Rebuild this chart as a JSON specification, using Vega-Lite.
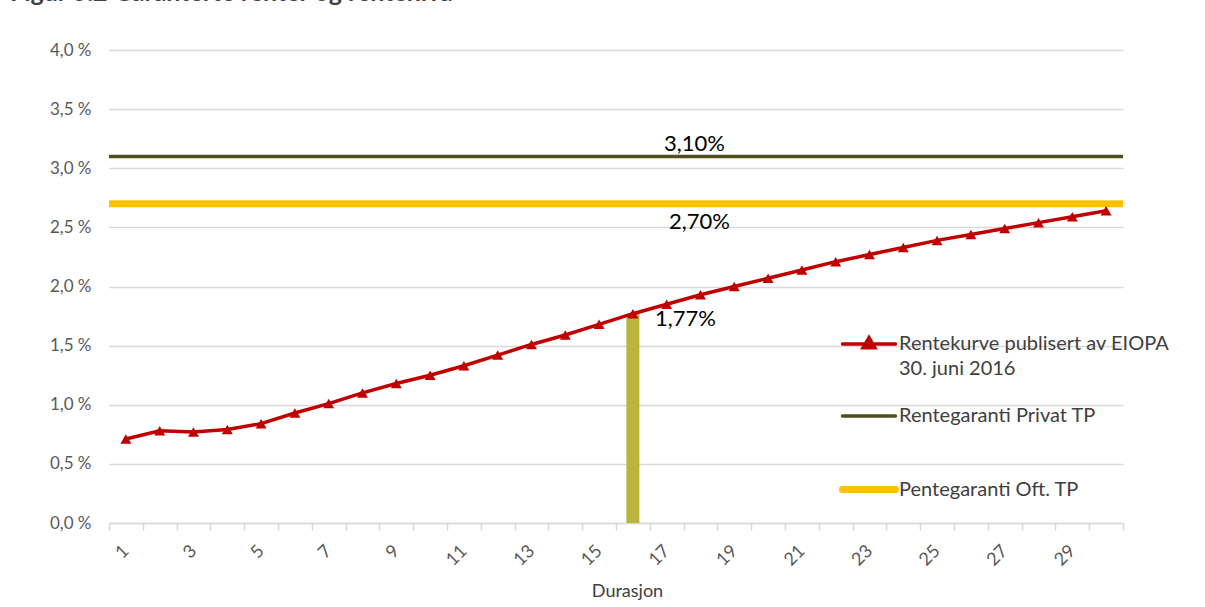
{
  "$schema": "https://vega.github.io/schema/vega-lite/v6.json",
  "width": 1014,
  "height": 473,
  "autosize": {"type": "none"},
  "padding": {"left": 109, "top": 50, "right": 82, "bottom": 84},
  "background": "white",
  "config": {
    "font": "Lato",
    "view": {"stroke": null},
    "axis": {"labelFont": "Lato", "titleFont": "Lato"},
    "legend": {"labelFont": "Lato"}
  },
  "title": {
    "text": "Figur 5.2 Garanterte renter og rentenivå",
    "anchor": "start",
    "frame": "group",
    "dx": -99,
    "offset": 15,
    "baseline": "alphabetic",
    "fontSize": 25,
    "fontWeight": "bold",
    "color": "#404040",
    "font": "Lato"
  },
  "datasets": {
    "kurve": [
      {"durasjon": 1, "rente": 0.71, "serie": "Rentekurve publisert av EIOPA 30. juni 2016"},
      {"durasjon": 2, "rente": 0.78, "serie": "Rentekurve publisert av EIOPA 30. juni 2016"},
      {"durasjon": 3, "rente": 0.77, "serie": "Rentekurve publisert av EIOPA 30. juni 2016"},
      {"durasjon": 4, "rente": 0.79, "serie": "Rentekurve publisert av EIOPA 30. juni 2016"},
      {"durasjon": 5, "rente": 0.84, "serie": "Rentekurve publisert av EIOPA 30. juni 2016"},
      {"durasjon": 6, "rente": 0.93, "serie": "Rentekurve publisert av EIOPA 30. juni 2016"},
      {"durasjon": 7, "rente": 1.01, "serie": "Rentekurve publisert av EIOPA 30. juni 2016"},
      {"durasjon": 8, "rente": 1.10, "serie": "Rentekurve publisert av EIOPA 30. juni 2016"},
      {"durasjon": 9, "rente": 1.18, "serie": "Rentekurve publisert av EIOPA 30. juni 2016"},
      {"durasjon": 10, "rente": 1.25, "serie": "Rentekurve publisert av EIOPA 30. juni 2016"},
      {"durasjon": 11, "rente": 1.33, "serie": "Rentekurve publisert av EIOPA 30. juni 2016"},
      {"durasjon": 12, "rente": 1.42, "serie": "Rentekurve publisert av EIOPA 30. juni 2016"},
      {"durasjon": 13, "rente": 1.51, "serie": "Rentekurve publisert av EIOPA 30. juni 2016"},
      {"durasjon": 14, "rente": 1.59, "serie": "Rentekurve publisert av EIOPA 30. juni 2016"},
      {"durasjon": 15, "rente": 1.68, "serie": "Rentekurve publisert av EIOPA 30. juni 2016"},
      {"durasjon": 16, "rente": 1.77, "serie": "Rentekurve publisert av EIOPA 30. juni 2016"},
      {"durasjon": 17, "rente": 1.85, "serie": "Rentekurve publisert av EIOPA 30. juni 2016"},
      {"durasjon": 18, "rente": 1.93, "serie": "Rentekurve publisert av EIOPA 30. juni 2016"},
      {"durasjon": 19, "rente": 2.00, "serie": "Rentekurve publisert av EIOPA 30. juni 2016"},
      {"durasjon": 20, "rente": 2.07, "serie": "Rentekurve publisert av EIOPA 30. juni 2016"},
      {"durasjon": 21, "rente": 2.14, "serie": "Rentekurve publisert av EIOPA 30. juni 2016"},
      {"durasjon": 22, "rente": 2.21, "serie": "Rentekurve publisert av EIOPA 30. juni 2016"},
      {"durasjon": 23, "rente": 2.27, "serie": "Rentekurve publisert av EIOPA 30. juni 2016"},
      {"durasjon": 24, "rente": 2.33, "serie": "Rentekurve publisert av EIOPA 30. juni 2016"},
      {"durasjon": 25, "rente": 2.39, "serie": "Rentekurve publisert av EIOPA 30. juni 2016"},
      {"durasjon": 26, "rente": 2.44, "serie": "Rentekurve publisert av EIOPA 30. juni 2016"},
      {"durasjon": 27, "rente": 2.49, "serie": "Rentekurve publisert av EIOPA 30. juni 2016"},
      {"durasjon": 28, "rente": 2.54, "serie": "Rentekurve publisert av EIOPA 30. juni 2016"},
      {"durasjon": 29, "rente": 2.59, "serie": "Rentekurve publisert av EIOPA 30. juni 2016"},
      {"durasjon": 30, "rente": 2.64, "serie": "Rentekurve publisert av EIOPA 30. juni 2016"}
    ],
    "garanti": [
      {"serie": "Rentegaranti Privat TP", "rente": 3.10, "etikett": "3,10%"},
      {"serie": "Pentegaranti Oft. TP", "rente": 2.70, "etikett": "2,70%"}
    ],
    "valgt": [
      {"durasjon": 16, "rente": 1.77, "etikett": "1,77%"}
    ]
  },
  "layer": [
    {
      "data": {"name": "valgt"},
      "mark": {"type": "bar", "size": 13, "color": "#B8B63C"},
      "encoding": {
        "x": {
          "field": "durasjon",
          "type": "ordinal",
          "scale": {"paddingInner": 0, "paddingOuter": 0},
          "axis": {
            "title": "Durasjon",
            "titleFontSize": 18,
            "titleFontWeight": "normal",
            "titleColor": "#404040",
            "titleX": 518,
            "titleY": 68,
            "titleBaseline": "middle",
            "labelExpr": "datum.value % 2 == 1 ? datum.label : ''",
            "labelAngle": -45,
            "labelAlign": "right",
            "labelBaseline": "middle",
            "labelFontSize": 18,
            "labelColor": "#595959",
            "labelPadding": 18,
            "tickBand": "extent",
            "tickColor": "#d9d9d9",
            "tickWidth": 1.5,
            "tickSize": 7,
            "domainColor": "#d9d9d9",
            "domainWidth": 1.5,
            "grid": false
          }
        },
        "y": {
          "field": "rente",
          "type": "quantitative",
          "scale": {"domain": [0, 4], "nice": false},
          "axis": {
            "title": null,
            "values": [0, 0.5, 1, 1.5, 2, 2.5, 3, 3.5, 4],
            "labelExpr": "replace(format(datum.value, '.1f'), '.', ',') + ' %'",
            "labelFontSize": 17,
            "labelColor": "#595959",
            "labelPadding": 18,
            "domain": false,
            "ticks": false,
            "grid": true,
            "gridColor": "#d9d9d9",
            "gridWidth": 1.3
          }
        }
      }
    },
    {
      "data": {"name": "valgt"},
      "mark": {"type": "text", "align": "left", "baseline": "alphabetic", "dx": 22, "dy": 12, "fontSize": 22, "color": "#000000"},
      "encoding": {
        "x": {"field": "durasjon", "type": "ordinal"},
        "y": {"field": "rente", "type": "quantitative"},
        "text": {"field": "etikett"}
      }
    },
    {
      "data": {"name": "garanti"},
      "transform": [{"filter": "datum.serie == 'Rentegaranti Privat TP'"}],
      "mark": {"type": "rule", "strokeWidth": 3.5},
      "encoding": {
        "y": {"field": "rente", "type": "quantitative"},
        "color": {"field": "serie", "type": "nominal"}
      }
    },
    {
      "data": {"name": "garanti"},
      "transform": [{"filter": "datum.serie == 'Pentegaranti Oft. TP'"}],
      "mark": {"type": "rule", "strokeWidth": 7},
      "encoding": {
        "y": {"field": "rente", "type": "quantitative"},
        "color": {"field": "serie", "type": "nominal"}
      }
    },
    {
      "data": {"name": "garanti"},
      "transform": [{"filter": "datum.serie == 'Rentegaranti Privat TP'"}],
      "mark": {"type": "text", "align": "center", "baseline": "alphabetic", "dx": -6, "dy": -5, "fontSize": 22, "color": "#000000"},
      "encoding": {
        "x": {"datum": 18, "type": "ordinal"},
        "y": {"field": "rente", "type": "quantitative"},
        "text": {"field": "etikett"}
      }
    },
    {
      "data": {"name": "garanti"},
      "transform": [{"filter": "datum.serie == 'Pentegaranti Oft. TP'"}],
      "mark": {"type": "text", "align": "center", "baseline": "alphabetic", "dx": -1, "dy": 25, "fontSize": 22, "color": "#000000"},
      "encoding": {
        "x": {"datum": 18, "type": "ordinal"},
        "y": {"field": "rente", "type": "quantitative"},
        "text": {"field": "etikett"}
      }
    },
    {
      "data": {"name": "kurve"},
      "mark": {"type": "line", "strokeWidth": 3.5},
      "encoding": {
        "x": {"field": "durasjon", "type": "ordinal"},
        "y": {"field": "rente", "type": "quantitative"},
        "color": {
          "field": "serie",
          "type": "nominal",
          "scale": {
            "domain": ["Rentekurve publisert av EIOPA 30. juni 2016", "Rentegaranti Privat TP", "Pentegaranti Oft. TP"],
            "range": ["#C00000", "#4E4D1B", "#FFC000"]
          },
          "legend": {
            "orient": "none",
            "legendX": 750,
            "legendY": 284,
            "title": null,
            "direction": "vertical",
            "symbolType": "stroke",
            "symbolSize": 2809,
            "symbolStrokeWidth": 3.5,
            "labelFontSize": 20,
            "labelColor": "#404040",
            "labelOffset": 20,
            "labelLimit": 400,
            "rowPadding": 27,
            "labelExpr": "datum.label == 'Rentekurve publisert av EIOPA 30. juni 2016' ? ['Rentekurve publisert av EIOPA', '30. juni 2016'] : datum.label",
            "encode": {
              "symbols": {
                "update": {
                  "shape": {"signal": "datum.value == 'Rentekurve publisert av EIOPA 30. juni 2016' ? 'M-1,0H1M-0.22,0.14L0,-0.24L0.22,0.14Z' : datum.value == 'Pentegaranti Oft. TP' ? 'M-1,1.0H1' : 'stroke'"},
                  "fill": {"signal": "datum.value == 'Rentekurve publisert av EIOPA 30. juni 2016' ? '#C00000' : 'transparent'"},
                  "strokeWidth": {"signal": "datum.value == 'Pentegaranti Oft. TP' ? 7 : 3.5"},
                  "strokeCap": {"value": "round"}
                }
              },
              "labels": {
                "update": {
                  "lineHeight": {"value": 25},
                  "dy": {"signal": "datum.value == 'Pentegaranti Oft. TP' ? 26.5 : 0"}
                }
              }
            }
          }
        }
      }
    },
    {
      "data": {"name": "kurve"},
      "mark": {"type": "point", "shape": "triangle-up", "filled": true, "size": 120, "opacity": 1},
      "encoding": {
        "x": {"field": "durasjon", "type": "ordinal"},
        "y": {"field": "rente", "type": "quantitative"},
        "color": {"field": "serie", "type": "nominal"}
      }
    }
  ]
}
